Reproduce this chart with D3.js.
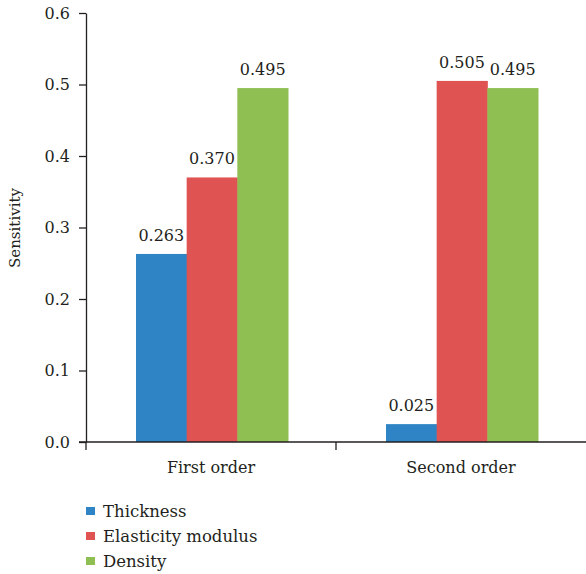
<!DOCTYPE html>
<html>
<head>
  <meta charset="utf-8">
  <title>Sensitivity</title>
  <style>
    body { margin: 0; background: #fff; }
    .axis path, .axis line { stroke: #231f20; stroke-width: 1.3; }
  </style>
</head>
<body>
<svg id="chart" width="586" height="574"></svg>
<script src="https://d3js.org/d3.v7.min.js"></script>
<script>

// data
var orders = ["First order", "Second order"];
var params = ["Thickness", "Elasticity modulus", "Density"];
var thickness  = [0.263, 0.025];
var elasticity = [0.370, 0.505];
var density    = [0.495, 0.495];
var yTicks = [0.0, 0.1, 0.2, 0.3, 0.4, 0.5, 0.6];
var colors = ["#2e84c5", "#df5352", "#8fbe53"];

var series = [thickness, elasticity, density];
// "Liberation Serif" comes out sans here, so DejaVu Serif it is
var font = "'DejaVu Serif', serif";

var svg = d3.select("#chart")
  .style("font-family", font);

var x0 = d3.scaleBand()
  .domain(orders)
  .range([86, 586]);

var x1 = d3.scaleBand()
  .domain(params)
  .range([50, 202]);

var y = d3.scaleLinear()
  .domain([0, 0.6])
  .range([442, 13]);

var color = d3.scaleOrdinal()
  .domain(params)
  .range(colors);

// bars
var groups = svg.selectAll("g.group")
  .data(orders)
  .enter()
  .append("g")
  .attr("class", "group")
  .attr("transform", d => "translate(" + x0(d) + ",0)");

groups.selectAll("rect")
  .data((d, i) => params.map((p, j) => ({param: p, value: series[j][i]})))
  .enter()
  .append("rect")
  .attr("x", d => x1(d.param))
  .attr("width", x1.bandwidth() + 0.5)
  .attr("y", d => y(d.value))
  .attr("height", d => y(0) - y(d.value))
  .attr("fill", d => color(d.param));

groups.selectAll("text.val")
  .data((d, i) => params.map((p, j) => ({param: p, value: series[j][i]})))
  .enter()
  .append("text")
  .attr("class", "val")
  .attr("x", d => x1(d.param) + x1.bandwidth() / 2)
  .attr("y", d => y(d.value) - 13)
  .attr("text-anchor", "middle")
  .attr("fill", "#231f20")
  .style("font-family", font)
  .style("font-size", "16px")
  .text(d => d3.format(".3f")(d.value));

// y axis
var yAxis = d3.axisLeft(y)
  .tickValues(yTicks)
  .tickFormat(d3.format(".1f"))
  .tickSize(7)
  .tickSizeOuter(0)
  .tickPadding(9);

var yg = svg.append("g")
  .attr("class", "axis")
  .attr("transform", "translate(86,0)")
  .call(yAxis);
yg.selectAll("text")
  .style("font-family", font)
  .style("font-size", "16px")
  .attr("fill", "#231f20");

// x axis with ticks at the band edges
var xAxis = svg.append("g")
  .attr("class", "axis")
  .attr("transform", "translate(0,442)");

xAxis.append("line")
  .attr("x1", 79).attr("x2", 586)
  .attr("y1", 0).attr("y2", 0);

xAxis.selectAll("line.tick")
  .data(orders)
  .enter()
  .append("line")
  .attr("x1", d => x0(d)).attr("x2", d => x0(d))
  .attr("y1", 0).attr("y2", 8);

xAxis.selectAll("text")
  .data(orders)
  .enter()
  .append("text")
  .attr("x", d => x0(d) + x0.bandwidth() / 2)
  .attr("y", 31)
  .attr("text-anchor", "middle")
  .attr("fill", "#231f20")
  .style("font-family", font)
  .style("font-size", "16px")
  .text(d => d);

// y label
svg.append("text")
  .attr("transform", "translate(20,228) rotate(-90)")
  .attr("text-anchor", "middle")
  .attr("fill", "#231f20")
  .style("font-family", font)
  .style("font-size", "15px")
  .text("Sensitivity");

// legend
var legend = svg.selectAll("g.legend")
  .data(params)
  .enter()
  .append("g")
  .attr("class", "legend")
  .attr("transform", (d, i) => "translate(86," + (507 + i * 25) + ")");

legend.append("rect")
  .attr("width", 9)
  .attr("height", 8)
  .attr("fill", d => color(d));

legend.append("text")
  .attr("x", 17)
  .attr("y", 9.5)
  .attr("fill", "#231f20")
  .style("font-family", font)
  .style("font-size", "16.5px")
  .text(d => d);

</script>
</body>
</html>
